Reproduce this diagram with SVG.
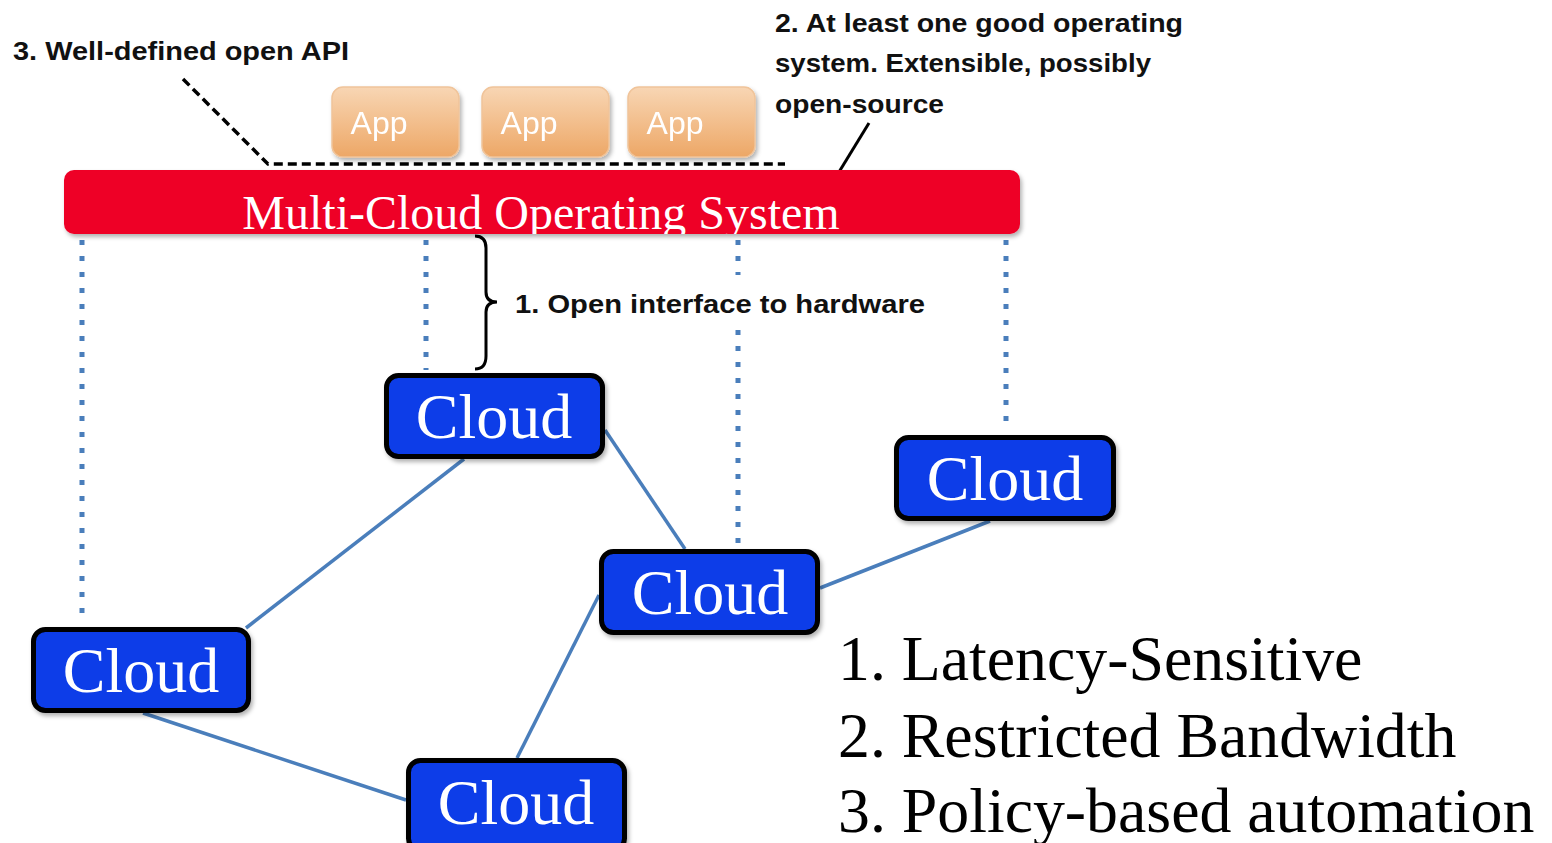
<svg xmlns="http://www.w3.org/2000/svg" width="1552" height="843" viewBox="0 0 1552 843">
<defs>
<style>
.lbl{font-family:"Liberation Sans",Arial,sans-serif;font-weight:bold;font-size:26px;fill:#111}
.serif{font-family:"Liberation Serif","Times New Roman",serif}
.cloud rect{fill:#0A3DE8;stroke:#000;stroke-width:5}
.cloud text{font-family:"Liberation Serif","Times New Roman",serif;font-size:64px;fill:#fff;text-anchor:middle}
.app rect{fill:url(#appg);stroke:#F0C49A;stroke-width:1.5}
.app text{font-family:"Liberation Sans",Arial,sans-serif;font-size:32px;fill:#fff;text-anchor:middle}
.link{stroke:#4A7EBB;stroke-width:3.5;fill:none}
.dot{stroke:#4A7EBB;stroke-width:5;stroke-dasharray:5 11;fill:none}
</style>
<linearGradient id="appg" x1="0" y1="0" x2="0" y2="1">
<stop offset="0" stop-color="#F8D6B4"/>
<stop offset="1" stop-color="#EDA766"/>
</linearGradient>
<clipPath id="barclip"><rect x="64" y="170" width="956" height="64" rx="10"/></clipPath>
<filter id="sh" x="-10%" y="-10%" width="130%" height="140%"><feDropShadow dx="2" dy="3" stdDeviation="2" flood-color="#000" flood-opacity="0.3"/></filter>
</defs>
<rect width="1552" height="843" fill="#fff"/>

<g id="connectors">
<path class="dot" d="M82 240 V615"/>
<path class="dot" d="M426 240 V370"/>
<path class="dot" d="M738 240 V275"/>
<path class="dot" d="M738 330 V548"/>
<path class="dot" d="M1006 240 V432"/>
<path class="link" d="M464 459 L246 628"/>
<path class="link" d="M605 430 L685 549"/>
<path class="link" d="M143 713 L406 800"/>
<path class="link" d="M599 595 L517 758"/>
<path class="link" d="M820 588 L990 521"/>
<path d="M183 79 L268 164 H785" stroke="#000" stroke-width="3.5" stroke-dasharray="9 5" fill="none"/>
<path d="M869 123 L839 172" stroke="#000" stroke-width="3" fill="none"/>
<path d="M475 236 Q486 236 486 248 V292 Q486 302 497 302 Q486 302 486 312 V356 Q486 369 475 369" stroke="#000" stroke-width="3" fill="none"/>
</g>

<g id="os-bar">
<rect x="64" y="170" width="956" height="64" rx="10" fill="#EE0028" filter="url(#sh)"/>
<g clip-path="url(#barclip)">
<text x="541" y="229" class="serif" font-size="48" fill="#fff" text-anchor="middle">Multi-Cloud Operating System</text>
</g>
</g>

<g id="app1" class="app" filter="url(#sh)"><rect x="332" y="87" width="127" height="70" rx="11"/><text x="379" y="134">App</text></g>
<g id="app2" class="app" filter="url(#sh)"><rect x="482" y="87" width="127" height="70" rx="11"/><text x="529" y="134">App</text></g>
<g id="app3" class="app" filter="url(#sh)"><rect x="628" y="87" width="127" height="70" rx="11"/><text x="675" y="134">App</text></g>

<g id="label-api"><text class="lbl" x="13" y="60" textLength="336" lengthAdjust="spacingAndGlyphs">3. Well-defined open API</text></g>
<g id="label-os">
<text class="lbl" x="775" y="32" textLength="408" lengthAdjust="spacingAndGlyphs">2. At least one good operating</text>
<text class="lbl" x="775" y="72" textLength="376" lengthAdjust="spacingAndGlyphs">system. Extensible, possibly</text>
<text class="lbl" x="775" y="113" textLength="169" lengthAdjust="spacingAndGlyphs">open-source</text>
</g>
<g id="label-hw"><text class="lbl" x="515" y="313" textLength="410" lengthAdjust="spacingAndGlyphs">1. Open interface to hardware</text></g>

<g id="cloud-top" class="cloud" filter="url(#sh)"><rect x="386.5" y="375.5" width="216" height="81" rx="12"/><text x="494" y="438">Cloud</text></g>
<g id="cloud-right" class="cloud" filter="url(#sh)"><rect x="896.5" y="437.5" width="217" height="81" rx="12"/><text x="1005" y="500">Cloud</text></g>
<g id="cloud-mid" class="cloud" filter="url(#sh)"><rect x="601.5" y="551.5" width="216" height="81" rx="12"/><text x="710" y="614">Cloud</text></g>
<g id="cloud-left" class="cloud" filter="url(#sh)"><rect x="33.5" y="629.5" width="215" height="81" rx="12"/><text x="141" y="692">Cloud</text></g>
<g id="cloud-bottom" class="cloud" filter="url(#sh)"><rect x="408.5" y="760.5" width="216" height="90" rx="12"/><text x="516" y="824">Cloud</text></g>

<g id="properties" class="serif" font-size="63.8" fill="#000">
<text x="838" y="680">1. Latency-Sensitive</text>
<text x="838" y="757">2. Restricted Bandwidth</text>
<text x="838" y="832">3. Policy-based automation</text>
</g>
</svg>
